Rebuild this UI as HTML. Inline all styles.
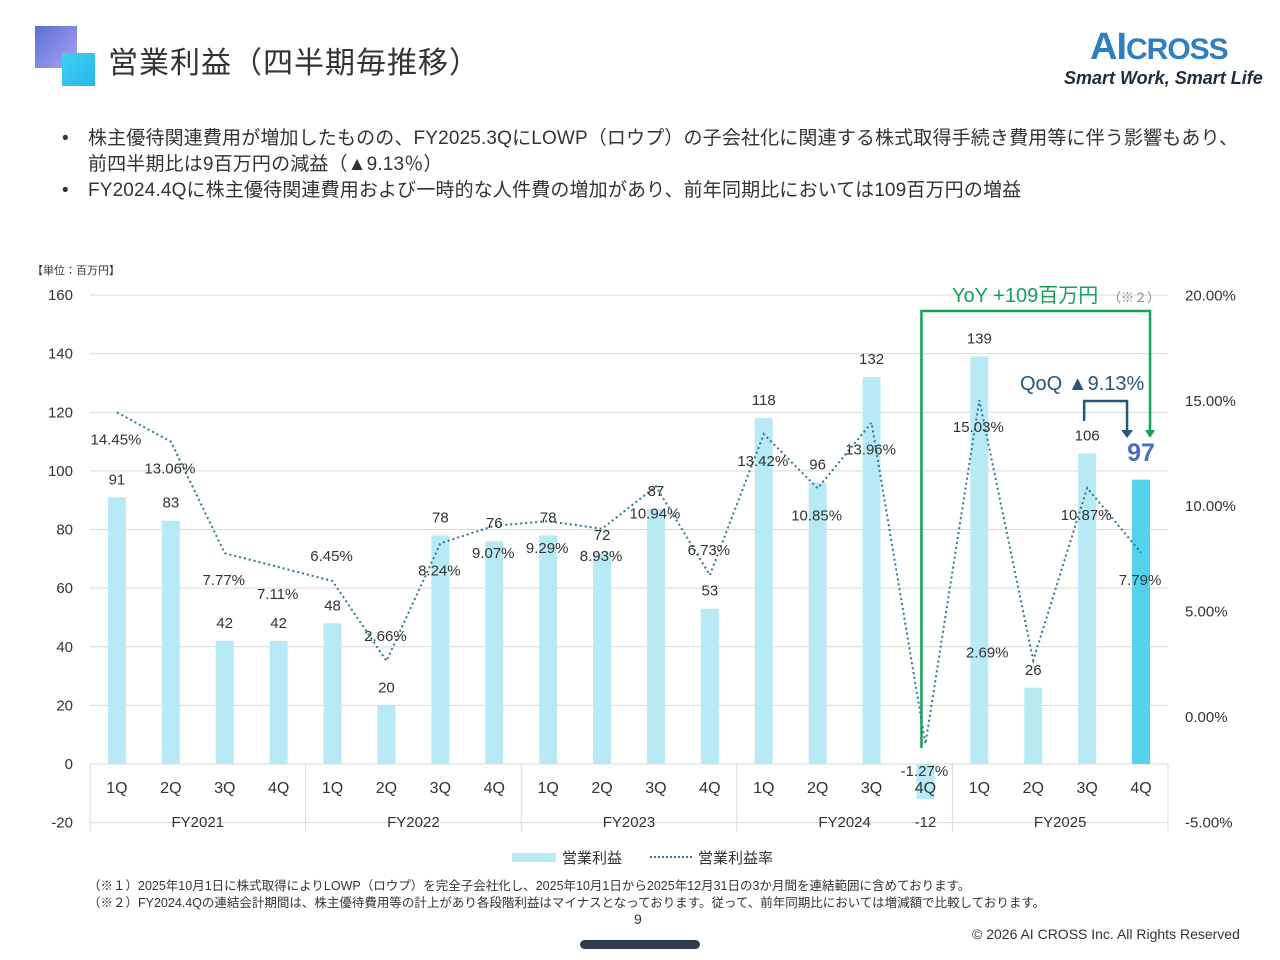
<!DOCTYPE html>
<html><head><meta charset="utf-8"><style>
body{margin:0;width:1280px;height:960px;background:#fff;font-family:"Liberation Sans","Noto Sans CJK JP",sans-serif;color:#333;position:relative;overflow:hidden}
.abs{position:absolute}
</style></head><body>
<div class="abs" style="left:35px;top:26px;width:42px;height:42px;background:linear-gradient(135deg,#5a6fd8,#a9a4ee)"></div>
<div class="abs" style="left:62px;top:53px;width:33px;height:33px;background:linear-gradient(135deg,#3fd0f2,#26b6ea)"></div>
<div class="abs" style="left:108px;top:38px;font-size:30px;color:#333;letter-spacing:1px">営業利益（四半期毎推移）</div>
<div class="abs" style="left:1090px;top:26px;font-size:38px;font-weight:bold;color:#2f7fbf;letter-spacing:-1px">AI<span style="font-size:30px">CROSS</span></div>
<div class="abs" style="left:1064px;top:68px;font-size:18px;font-style:italic;font-weight:bold;color:#1e2d3d">Smart Work, Smart Life</div>
<div class="abs" style="left:62px;top:126px;font-size:19px;line-height:26px;color:#333;letter-spacing:0.15px">
<div style="display:flex"><span style="width:26px">•</span><span>株主優待関連費用が増加したものの、FY2025.3QにLOWP（ロウプ）の子会社化に関連する株式取得手続き費用等に伴う影響もあり、<br>前四半期比は9百万円の減益（▲9.13％）</span></div>
<div style="display:flex"><span style="width:26px">•</span><span>FY2024.4Qに株主優待関連費用および一時的な人件費の増加があり、前年同期比においては109百万円の増益</span></div>
</div>
<div class="abs" style="left:32px;top:262px;font-size:11px">【単位：百万円】</div>
<svg id="chart" class="abs" style="left:0;top:0" width="1280" height="960"></svg>
<div class="abs" style="left:88px;top:878px;font-size:12.5px;line-height:17px;color:#333">（※１）2025年10月1日に株式取得によりLOWP（ロウプ）を完全子会社化し、2025年10月1日から2025年12月31日の3か月間を連結範囲に含めております。<br>（※２）FY2024.4Qの連結会計期間は、株主優待費用等の計上があり各段階利益はマイナスとなっております。従って、前年同期比においては増減額で比較しております。</div>
<div class="abs" style="left:634px;top:911px;font-size:14px">9</div>
<div class="abs" style="left:580px;top:940px;width:120px;height:9px;border-radius:5px;background:#2e3e4e"></div>
<div class="abs" style="left:972px;top:926px;font-size:14px;color:#333">© 2026 AI CROSS Inc. All Rights Reserved</div>
<script>
const quarters=["1Q","2Q","3Q","4Q","1Q","2Q","3Q","4Q","1Q","2Q","3Q","4Q","1Q","2Q","3Q","4Q","1Q","2Q","3Q","4Q"];
const years=["FY2021","FY2022","FY2023","FY2024","FY2025"];
const profit=[91,83,42,42,48,20,78,76,78,72,87,53,118,96,132,-12,139,26,106,97];
const margin=[14.45,13.06,7.77,7.11,6.45,2.66,8.24,9.07,9.29,8.93,10.94,6.73,13.42,10.85,13.96,-1.27,15.03,2.69,10.87,7.79];
const leftTicks=[160,140,120,100,80,60,40,20,0,-20];
const rightTicks=[20,15,10,5,0,-5];
const svg=document.getElementById('chart');
const NS="http://www.w3.org/2000/svg";
const x0=90,x1=1168,step=(x1-x0)/quarters.length;
const yL=v=>764-v*(469/160);
const yR=v=>717-v*21.08;
const xc=i=>x0+step*(i+0.5);
function mk(t,a,txt){const e=document.createElementNS(NS,t);for(const k in a)e.setAttribute(k,a[k]);if(txt!=null)e.textContent=txt;svg.appendChild(e);return e;}
leftTicks.forEach(v=>{
 const g=mk('line',{x1:x0,x2:x1,y1:yL(v),y2:yL(v),stroke:'#d9d9d9','stroke-width':1});
 
 
 const t=mk('text',{x:73,y:yL(v)+5,'text-anchor':'end','font-size':15,fill:'#333'},v);
 
 
});
rightTicks.forEach(v=>{
 const t=mk('text',{x:1185,y:yR(v)+5,'font-size':15,fill:'#333'},v.toFixed(2)+'%');
 
 
});
for(let k=0;k<=years.length;k++){
 const l=mk('line',{x1:x0+k*step*4,x2:x0+k*step*4,y1:764,y2:832,stroke:'#d9d9d9'});
 
 
}
years.forEach((y,k)=>{
 const t=mk('text',{x:x0+(k*4+2)*step,y:827,'text-anchor':'middle','font-size':15,fill:'#333'},y);
 
 
});
profit.forEach((v,i)=>{
 const top=Math.min(yL(v),yL(0)),h=Math.abs(yL(v)-yL(0));
 const b=mk('rect',{x:xc(i)-9,y:top,width:18,height:h,fill:i===profit.length-1?'#52d2ec':'#b8eaf5'});
 
 
});
quarters.forEach((q,i)=>{
 const t=mk('text',{x:xc(i),y:793,'text-anchor':'middle','font-size':16,fill:'#333'},q);
 
 
});
const pts=margin.map((v,i)=>xc(i)+','+yR(v)).join(' ');
const pl=mk('polyline',{points:pts,fill:'none',stroke:'#2f7790','stroke-width':2,'stroke-dasharray':'2 3'});


profit.forEach((v,i)=>{
 if(i===profit.length-1)return;
 const y=v>=0?yL(v)-13:yL(v)+28;
 const t=mk('text',{x:xc(i),y:y,'text-anchor':'middle','font-size':15,fill:'#333'},v);
 
 
});
const above=new Set([4,5,11]);
margin.forEach((v,i)=>{
 let x=xc(i)-1,y=yR(v)+32;
 if(above.has(i))y=yR(v)-20;
 if(i===17){x=xc(i)-46;y=yR(v)-3;}
 const t=mk('text',{x:x,y:y,'text-anchor':'middle','font-size':15,fill:'#333'},v.toFixed(2)+'%');
 
 
});
const ya=mk('polyline',{points:`${xc(15)-4},748 ${xc(15)-4},311 ${xc(19)+9},311 ${xc(19)+9},432`,fill:'none',stroke:'#16a05a','stroke-width':2.5});


const yah=mk('polygon',{points:`${xc(19)+4},430 ${xc(19)+14},430 ${xc(19)+9},438`,fill:'#16a05a'});


const yt=mk('text',{x:952,y:302,'font-size':20,fill:'#16a05a'},'YoY +109百万円');


const yn=mk('text',{x:1108,y:302,'font-size':13,fill:'#888'},'（※２）');


const qa=mk('polyline',{points:`${xc(18)-3},421 ${xc(18)-3},401 ${xc(19)-14},401 ${xc(19)-14},432`,fill:'none',stroke:'#24587a','stroke-width':2.5});


const qah=mk('polygon',{points:`${xc(19)-20},430 ${xc(19)-8},430 ${xc(19)-14},438`,fill:'#24587a'});


const qt=mk('text',{x:1020,y:390,'font-size':20,fill:'#24587a'},'QoQ ▲9.13%');


const lv=mk('text',{x:xc(19),y:461,'text-anchor':'middle','font-size':25,'font-weight':'bold',fill:'#4a6fc0'},profit[19]);


const lg=mk('rect',{x:512,y:853,width:44,height:9,fill:'#b8eaf5'});


const lt1=mk('text',{x:562,y:863,'font-size':15,fill:'#333'},'営業利益');


const ll=mk('line',{x1:650,x2:692,y1:857,y2:857,stroke:'#2f7790','stroke-width':2,'stroke-dasharray':'2 2'});


const lt2=mk('text',{x:698,y:863,'font-size':15,fill:'#333'},'営業利益率');


</script>
</body></html>
